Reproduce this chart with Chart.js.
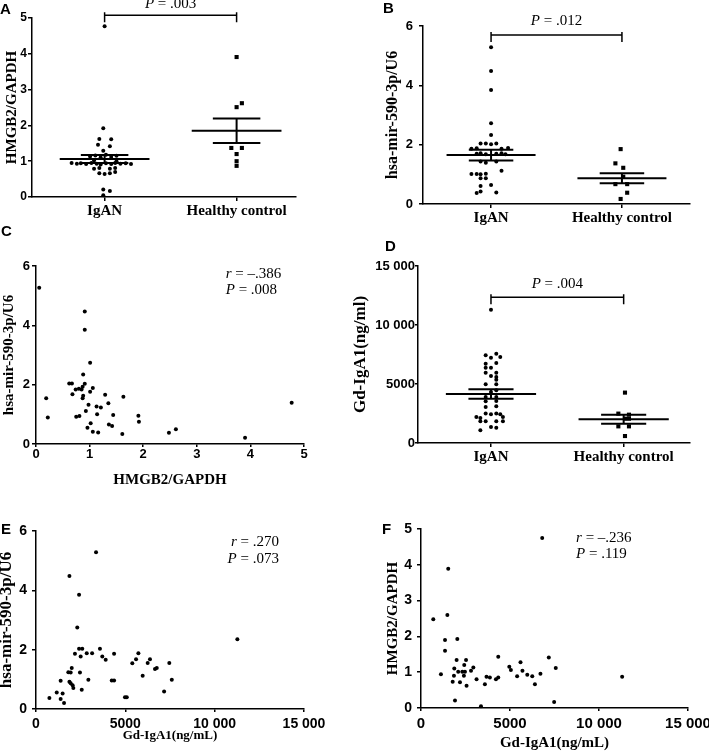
<!DOCTYPE html>
<html>
<head>
<meta charset="utf-8">
<script src="https://cdn.jsdelivr.net/npm/chart.js@4.4.1/dist/chart.umd.min.js"></script>
<style>
  body { margin: 0; background: #fff; }
  #fig { position: relative; width: 709px; height: 752px; overflow: hidden; background: #fff; }
  canvas { position: absolute; }
  .tag { position: absolute; font: bold 15px "Liberation Sans", Arial, sans-serif; line-height: 15px; color: #000; }
</style>
</head>
<body>
<div id="fig">
  <canvas id="cA" width="300" height="240" style="left:0px;top:0px"></canvas>
  <canvas id="cB" width="359" height="235" style="left:350px;top:0px"></canvas>
  <canvas id="cC" width="354" height="239" style="left:0px;top:250px"></canvas>
  <canvas id="cD" width="359" height="235" style="left:350px;top:245px"></canvas>
  <canvas id="cE" width="358" height="243" style="left:-4px;top:500px"></canvas>
  <canvas id="cF" width="370" height="252" style="left:350px;top:500px"></canvas>
  <div class="tag" style="left:0px;top:1px">A</div>
  <div class="tag" style="left:383px;top:0px">B</div>
  <div class="tag" style="left:1px;top:223px">C</div>
  <div class="tag" style="left:385px;top:238px">D</div>
  <div class="tag" style="left:1px;top:521px">E</div>
  <div class="tag" style="left:382px;top:521px">F</div>
</div>
<script>
const SANS = '"Liberation Sans", Arial, sans-serif'
const SERIF = '"Liberation Serif", "Times New Roman", serif'

const groups = ['IgAN', 'Healthy control']

// tick labels
const hmgbTicks = ['0', '1', '2', '3', '4', '5']
const mirTicks = ['0', '2', '4', '6']
const gdTicks = ['0', '5000', '10 000', '15 000']

// A  HMGB2/GAPDH by group (x = group position with the spread seen in the dot plot)
const aIgX = [1.00, 0.99, 0.96, 1.05, 0.95, 1.04, 0.99,
  0.89, 0.93, 0.97, 1.01, 1.05, 1.09,
  0.75, 0.79, 0.82, 0.86, 0.90, 0.94, 0.97, 1.01, 1.05, 1.08, 1.12, 1.16, 1.20,
  0.92, 1.09, 0.92, 0.96, 1.04, 1.08, 0.96, 1.00, 1.04, 1.08, 0.99, 1.04, 0.99]
const aIgY = [4.77, 1.92, 1.62, 1.61, 1.46, 1.42, 1.29,
  1.13, 1.16, 1.10, 1.18, 1.12, 1.15,
  0.95, 0.93, 0.94, 0.92, 0.95, 0.93, 0.91, 0.94, 0.92, 0.95, 0.93, 0.94, 0.92,
  1.02, 1.00, 0.79, 0.81, 0.79, 0.81, 0.66, 0.64, 0.66, 0.70, 0.21, 0.17, 0.05]
const aHcX = [2.00, 2.04, 2.00, 1.96, 2.04, 2.00, 2.00, 2.00]
const aHcY = [3.91, 2.62, 2.51, 1.37, 1.37, 1.20, 1.00, 0.87]
const aMean = [1.06, 1.85]
const aSem = [0.11, 0.34]
const aP = 'P = .003'

// B  hsa-mir-590-3p/U6 by group
const bIgX = [1.00, 1.00, 1.00, 1.00, 1.00,
  0.92, 0.96, 1.04, 1.00,
  0.85, 0.89, 1.08, 1.13,
  0.89, 0.92, 0.96, 1.04, 1.08, 1.11,
  0.92, 0.96, 1.04, 1.08,
  0.85, 0.89, 0.92, 0.96, 0.92, 0.96, 0.92, 1.00, 0.92, 0.89, 1.04]
const bIgY = [5.28, 4.48, 3.84, 2.72, 2.33,
  2.04, 2.04, 2.04, 2.01,
  1.86, 1.88, 1.86, 1.89,
  1.69, 1.71, 1.68, 1.69, 1.71, 1.68,
  1.43, 1.39, 1.43, 1.12,
  1.01, 1.01, 1.00, 1.02, 0.87, 0.87, 0.61, 0.64, 0.42, 0.37, 0.39]
const bHcX = [1.99, 1.95, 2.01, 2.01, 1.95, 2.04, 2.04, 1.99]
const bHcY = [1.85, 1.37, 1.22, 0.92, 0.67, 0.67, 0.38, 0.17]
const bMean = [1.65, 0.87]
const bSem = [0.18, 0.17]
const bP = 'P = .012'

// C  HMGB2/GAPDH vs hsa-mir-590-3p/U6
const cX = [0.06, 0.19, 0.22, 0.62, 0.67, 0.68, 0.74, 0.80, 0.75, 0.81, 0.88, 0.87, 0.85, 0.88, 0.87,
  0.91, 0.91, 0.91, 0.93, 0.96, 0.98, 1.01, 1.01, 1.02, 1.06, 1.06, 1.13, 1.14, 1.16, 1.21,
  1.29, 1.35, 1.36, 1.42, 1.44, 1.61, 1.63, 1.91, 1.92, 2.48, 2.61, 3.90, 4.77]
const cY = [5.27, 1.54, 0.89, 2.04, 2.04, 1.68, 1.84, 1.86, 0.92, 0.94, 2.34, 1.93, 1.84, 1.63, 1.54,
  4.47, 3.85, 2.03, 1.11, 0.55, 1.32, 2.74, 1.76, 0.70, 1.89, 0.41, 1.26, 1.00, 0.39, 1.23,
  1.66, 1.37, 0.66, 0.61, 0.98, 0.34, 1.59, 0.95, 0.75, 0.38, 0.50, 0.21, 1.39]
const cStat = ['r = –.386', 'P = .008']

// D  Gd-IgA1 by group
const dIgX = [1.00, 0.96, 1.04, 1.00, 1.07, 0.96, 1.04, 0.96, 1.00, 0.96, 1.04,
  1.00, 1.04, 1.04, 0.96, 1.04, 1.00, 1.04, 0.96, 1.04, 0.96, 1.04,
  0.96, 1.04, 0.96, 1.04, 0.89, 0.92, 1.00, 1.07, 1.09,
  0.92, 0.96, 1.04, 1.09, 1.00, 1.04, 0.92]
const dIgY = [11300, 7430, 7570, 7230, 7290, 6720, 6780, 6380, 6380, 5960, 5960,
  5680, 5590, 5370, 4970, 4970, 4320, 4460, 3900, 3900, 3530, 3560,
  3050, 3110, 2490, 2490, 2200, 2120, 2430, 2430, 2200,
  1840, 1840, 1840, 1840, 1360, 1300, 1070]
const dHcX = [2.01, 1.96, 2.04, 2.01, 2.04, 1.96, 2.04, 2.01]
const dHcY = [4270, 2490, 2400, 2060, 2060, 1410, 1410, 590]
const dMean = [4150, 2020]
const dSem = [400, 380]
const dP = 'P = .004'

// E  Gd-IgA1 vs hsa-mir-590-3p/U6
const eX = [750, 1160, 1380, 1380, 1490, 1570, 1810, 1870, 1870, 1940, 2000, 1940, 2050, 2090, 2180,
  2310, 2410, 2410, 2460, 2500, 2560, 2590, 2840, 2930, 3140, 3360, 3580, 3710, 3900, 4240,
  4370, 4370, 4980, 5080, 5390, 5600, 5730, 5970, 6250, 6380, 6660, 6760, 7170, 7460, 7600, 11270]
const eY = [0.37, 0.56, 0.95, 0.34, 0.52, 0.20, 1.24, 4.48, 0.92, 0.87, 1.38, 1.23, 0.80, 0.71, 1.86,
  2.75, 3.85, 2.03, 1.23, 1.77, 0.65, 2.03, 1.88, 0.99, 1.88, 5.28, 2.03, 1.77, 1.66, 0.96,
  0.96, 1.86, 0.40, 0.40, 1.54, 1.68, 1.88, 1.12, 1.55, 1.68, 1.35, 1.38, 0.59, 1.55, 0.99, 2.35]
const eStat = ['r = .270', 'P = .073']

// F  Gd-IgA1 vs HMGB2/GAPDH
const fX = [690, 1120, 1350, 1350, 1480, 1530, 1780, 1850, 1870, 1910, 2000, 2040, 2090, 2190, 2320,
  2410, 2430, 2470, 2530, 2560, 2810, 2940, 3120, 3370, 3590, 3680, 3870, 4210, 4340, 4340,
  4960, 5050, 5400, 5590, 5700, 5970, 6250, 6400, 6710, 6810, 7180, 7480, 7570, 11300]
const fY = [2.48, 0.94, 1.90, 1.60, 2.60, 3.89, 0.73, 0.90, 1.10, 0.21, 1.34, 1.93, 1.01, 0.72, 1.01,
  0.90, 1.20, 1.01, 1.34, 0.62, 1.04, 1.13, 0.80, 0.05, 0.66, 0.87, 0.85, 0.80, 0.85, 1.43,
  1.15, 1.06, 0.89, 1.28, 1.04, 0.93, 0.89, 0.66, 0.96, 4.75, 1.41, 0.17, 1.12, 0.87]
const fStat = ['r = –.236', 'P = .119']

function zip(xs, ys) {
  return xs.map((x, i) => ({ x: x, y: ys[i] }))
}

// stat text: first letter italic (P, r), rest upright
function drawStat(ctx, text, x, y, align, size) {
  const head = text[0], rest = text.slice(1)
  const it = 'italic ' + size + 'px ' + SERIF
  const up = size + 'px ' + SERIF
  ctx.font = it
  const w1 = ctx.measureText(head).width
  ctx.font = up
  const w2 = ctx.measureText(rest).width
  let sx = x
  if (align === 'center') sx = x - (w1 + w2) / 2
  if (align === 'right') sx = x - w1 - w2
  ctx.fillStyle = '#000'
  ctx.textAlign = 'left'
  ctx.textBaseline = 'alphabetic'
  ctx.font = it
  ctx.fillText(head, sx, y)
  ctx.font = up
  ctx.fillText(rest, sx + w1, y)
}

const bracketPlugin = {
  id: 'bracket',
  afterDatasetsDraw(chart, args, o) {
    if (!o || !o.text) return
    const ctx = chart.ctx
    const xs = chart.scales.x, ys = chart.scales.y
    const x1 = xs.getPixelForValue(1), x2 = xs.getPixelForValue(2)
    const yy = ys.getPixelForValue(o.at)
    ctx.save()
    ctx.strokeStyle = '#000'
    ctx.lineWidth = 1.5
    ctx.beginPath()
    ctx.moveTo(x1, yy - 3); ctx.lineTo(x1, yy + 7)
    ctx.moveTo(x1, yy); ctx.lineTo(x2, yy)
    ctx.moveTo(x2, yy - 3); ctx.lineTo(x2, yy + 7)
    ctx.stroke()
    drawStat(ctx, o.text, (x1 + x2) / 2, yy - o.lift, 'center', 15)
    ctx.restore()
  }
}

const statPlugin = {
  id: 'stats',
  afterDatasetsDraw(chart, args, o) {
    if (!o || !o.lines) return
    const ctx = chart.ctx
    const px = chart.scales.x.getPixelForValue(o.x)
    const py = chart.scales.y.getPixelForValue(o.y)
    ctx.save()
    o.lines.forEach((t, i) => drawStat(ctx, t, px, py + i * o.gap, o.align, 15))
    ctx.restore()
  }
}

function axis(o) {
  const a = {
    type: 'linear',
    min: o.min,
    max: o.max,
    border: { color: '#000', width: 1.5 },
    grid: { drawOnChartArea: false, color: '#000', lineWidth: 1.5, tickLength: o.tickLen },
    ticks: {
      color: '#000',
      font: { family: o.cat ? SERIF : SANS, weight: 'bold', size: o.tickSize },
      padding: o.pad,
      stepSize: o.step,
      autoSkip: false,
      maxRotation: 0,
      minRotation: 0,
      callback: (v, i) => o.labels[i]
    },
    title: o.title
      ? { display: true, text: o.title, color: '#000', padding: 0,
          font: { family: SERIF, weight: 'bold', size: o.titleSize } }
      : { display: false },
    afterFit: s => {
      if (o.isX) s.height = o.box
      else s.width = o.box
    }
  }
  if (o.at) a.afterBuildTicks = s => { s.ticks = o.at.map(v => ({ value: v })) }
  return a
}

function lineSet(pts) {
  return { data: pts, showLine: true, borderColor: '#000', borderWidth: 2, pointRadius: 0, clip: false }
}

function meanSem(mean, sem, c, hw, sw) {
  return [
    lineSet([{ x: c - hw, y: mean }, { x: c + hw, y: mean }]),
    lineSet([{ x: c - sw, y: mean + sem }, { x: c + sw, y: mean + sem }]),
    lineSet([{ x: c - sw, y: mean - sem }, { x: c + sw, y: mean - sem }]),
    lineSet([{ x: c, y: mean - sem }, { x: c, y: mean + sem }])
  ]
}

function baseOptions(p, x, y, plugins) {
  return {
    responsive: false,
    animation: false,
    devicePixelRatio: 1,
    layout: { padding: p.pad },
    plugins: Object.assign({ legend: { display: false }, tooltip: { enabled: false } }, plugins),
    scales: { x: x, y: y }
  }
}

function groupChart(id, p) {
  const ds = [
    { data: zip(p.igX, p.igY), pointStyle: 'circle', pointRadius: 2, backgroundColor: '#000', borderWidth: 0, clip: false },
    { data: zip(p.hcX, p.hcY), pointStyle: 'rect', pointRadius: 2.9, backgroundColor: '#000', borderWidth: 0, clip: false }
  ]
  .concat(meanSem(p.mean[0], p.sem[0], 1, p.hw, p.sw))
  .concat(meanSem(p.mean[1], p.sem[1], 2, p.hw, p.sw))
  return new Chart(document.getElementById(id), {
    type: 'scatter',
    data: { datasets: ds },
    options: baseOptions(p,
      axis({ isX: true, cat: true, min: p.xMin, max: p.xMax, at: [1, 2], labels: groups, tickSize: 15,
             tickLen: 4, pad: 1, box: p.xh }),
      axis({ min: 0, max: p.yMax, step: p.yStep, labels: p.yLabels, tickSize: p.yTick, tickLen: p.yTickLen,
             pad: p.yPad, box: p.yw, title: p.yTitle, titleSize: p.yTitleSize }),
      { bracket: { text: p.pText, at: p.pAt, lift: p.lift } }),
    plugins: [bracketPlugin]
  })
}

function corrChart(id, p) {
  return new Chart(document.getElementById(id), {
    type: 'scatter',
    data: { datasets: [{ data: zip(p.xs, p.ys), pointStyle: 'circle', pointRadius: 2, backgroundColor: '#000', borderWidth: 0, clip: false }] },
    options: baseOptions(p,
      axis({ isX: true, min: 0, max: p.xMax, step: p.xStep, labels: p.xLabels, tickSize: p.xTick, tickLen: 3,
             pad: p.xPad, box: p.xh, title: p.xTitle, titleSize: p.xTitleSize }),
      axis({ min: 0, max: p.yMax, step: p.yStep, labels: p.yLabels, tickSize: p.yTick, tickLen: p.yTickLen,
             pad: p.yPad, box: p.yw, title: p.yTitle, titleSize: p.yTitleSize }),
      { stats: { lines: p.stat, x: p.sx, y: p.sy, align: p.align, gap: 16.5 } }),
    plugins: [statPlugin]
  })
}

groupChart('cA', {
  igX: aIgX, igY: aIgY, hcX: aHcX, hcY: aHcY, mean: aMean, sem: aSem,
  hw: 0.34, sw: 0.18, xMin: 0.45, xMax: 2.45,
  yMax: 5, yStep: 1, yLabels: hmgbTicks, yTick: 12, yTickLen: 4, yPad: 1,
  yTitle: 'HMGB2/GAPDH', yTitleSize: 15,
  pad: { left: 3, top: 18, right: 3, bottom: 0 }, yw: 29, xh: 43,
  pText: aP, pAt: 5.08, lift: 7
})

groupChart('cB', {
  igX: bIgX, igY: bIgY, hcX: bHcX, hcY: bHcY, mean: bMean, sem: bSem,
  hw: 0.34, sw: 0.17, xMin: 0.48, xMax: 2.52,
  yMax: 6, yStep: 2, yLabels: mirTicks, yTick: 13, yTickLen: 4, yPad: 6,
  yTitle: 'hsa-mir-590-3p/U6', yTitleSize: 16,
  pad: { left: 33, top: 26, right: 19, bottom: 0 }, yw: 40, xh: 31,
  pText: bP, pAt: 5.7, lift: 10
})

corrChart('cC', {
  xs: cX, ys: cY, xMax: 5, xStep: 1, xLabels: hmgbTicks, xTick: 13, xPad: 0,
  xTitle: 'HMGB2/GAPDH', xTitleSize: 15,
  yMax: 6, yStep: 2, yLabels: mirTicks, yTick: 13, yTickLen: 4, yPad: 2,
  yTitle: 'hsa-mir-590-3p/U6', yTitleSize: 15,
  pad: { left: 0, top: 16, right: 50, bottom: 0 }, yw: 36, xh: 45,
  stat: cStat, sx: 3.54, sy: 5.6, align: 'left'
})

groupChart('cD', {
  igX: dIgX, igY: dIgY, hcX: dHcX, hcY: dHcY, mean: dMean, sem: dSem,
  hw: 0.34, sw: 0.17, xMin: 0.45, xMax: 2.5,
  yMax: 15000, yStep: 5000, yLabels: gdTicks, yTick: 13, yTickLen: 3, yPad: 0,
  yTitle: 'Gd-IgA1(ng/ml)', yTitleSize: 17,
  pad: { left: 0, top: 21, right: 19, bottom: 0 }, yw: 68, xh: 37,
  pText: dP, pAt: 12350, lift: 9
})

corrChart('cE', {
  xs: eX, ys: eY, xMax: 15000, xStep: 5000, xLabels: gdTicks, xTick: 14, xPad: 4,
  xTitle: 'Gd-IgA1(ng/mL)', xTitleSize: 13,
  yMax: 6, yStep: 2, yLabels: mirTicks, yTick: 14, yTickLen: 4, yPad: 5,
  yTitle: 'hsa-mir-590-3p/U6', yTitleSize: 17,
  pad: { left: 0, top: 31, right: 50, bottom: 0 }, yw: 40, xh: 34,
  stat: eStat, sx: 13600, sy: 5.49, align: 'right'
})

corrChart('cF', {
  xs: fX, ys: fY, xMax: 15000, xStep: 5000, xLabels: gdTicks, xTick: 15, xPad: 4,
  xTitle: 'Gd-IgA1(ng/mL)', xTitleSize: 15,
  yMax: 5, yStep: 1, yLabels: hmgbTicks, yTick: 14, yTickLen: 4, yPad: 5,
  yTitle: 'HMGB2/GAPDH', yTitleSize: 15,
  pad: { left: 34, top: 29, right: 32, bottom: 0 }, yw: 37, xh: 44,
  stat: fStat, sx: 8710, sy: 4.64, align: 'left'
})
</script>
</body>
</html>
